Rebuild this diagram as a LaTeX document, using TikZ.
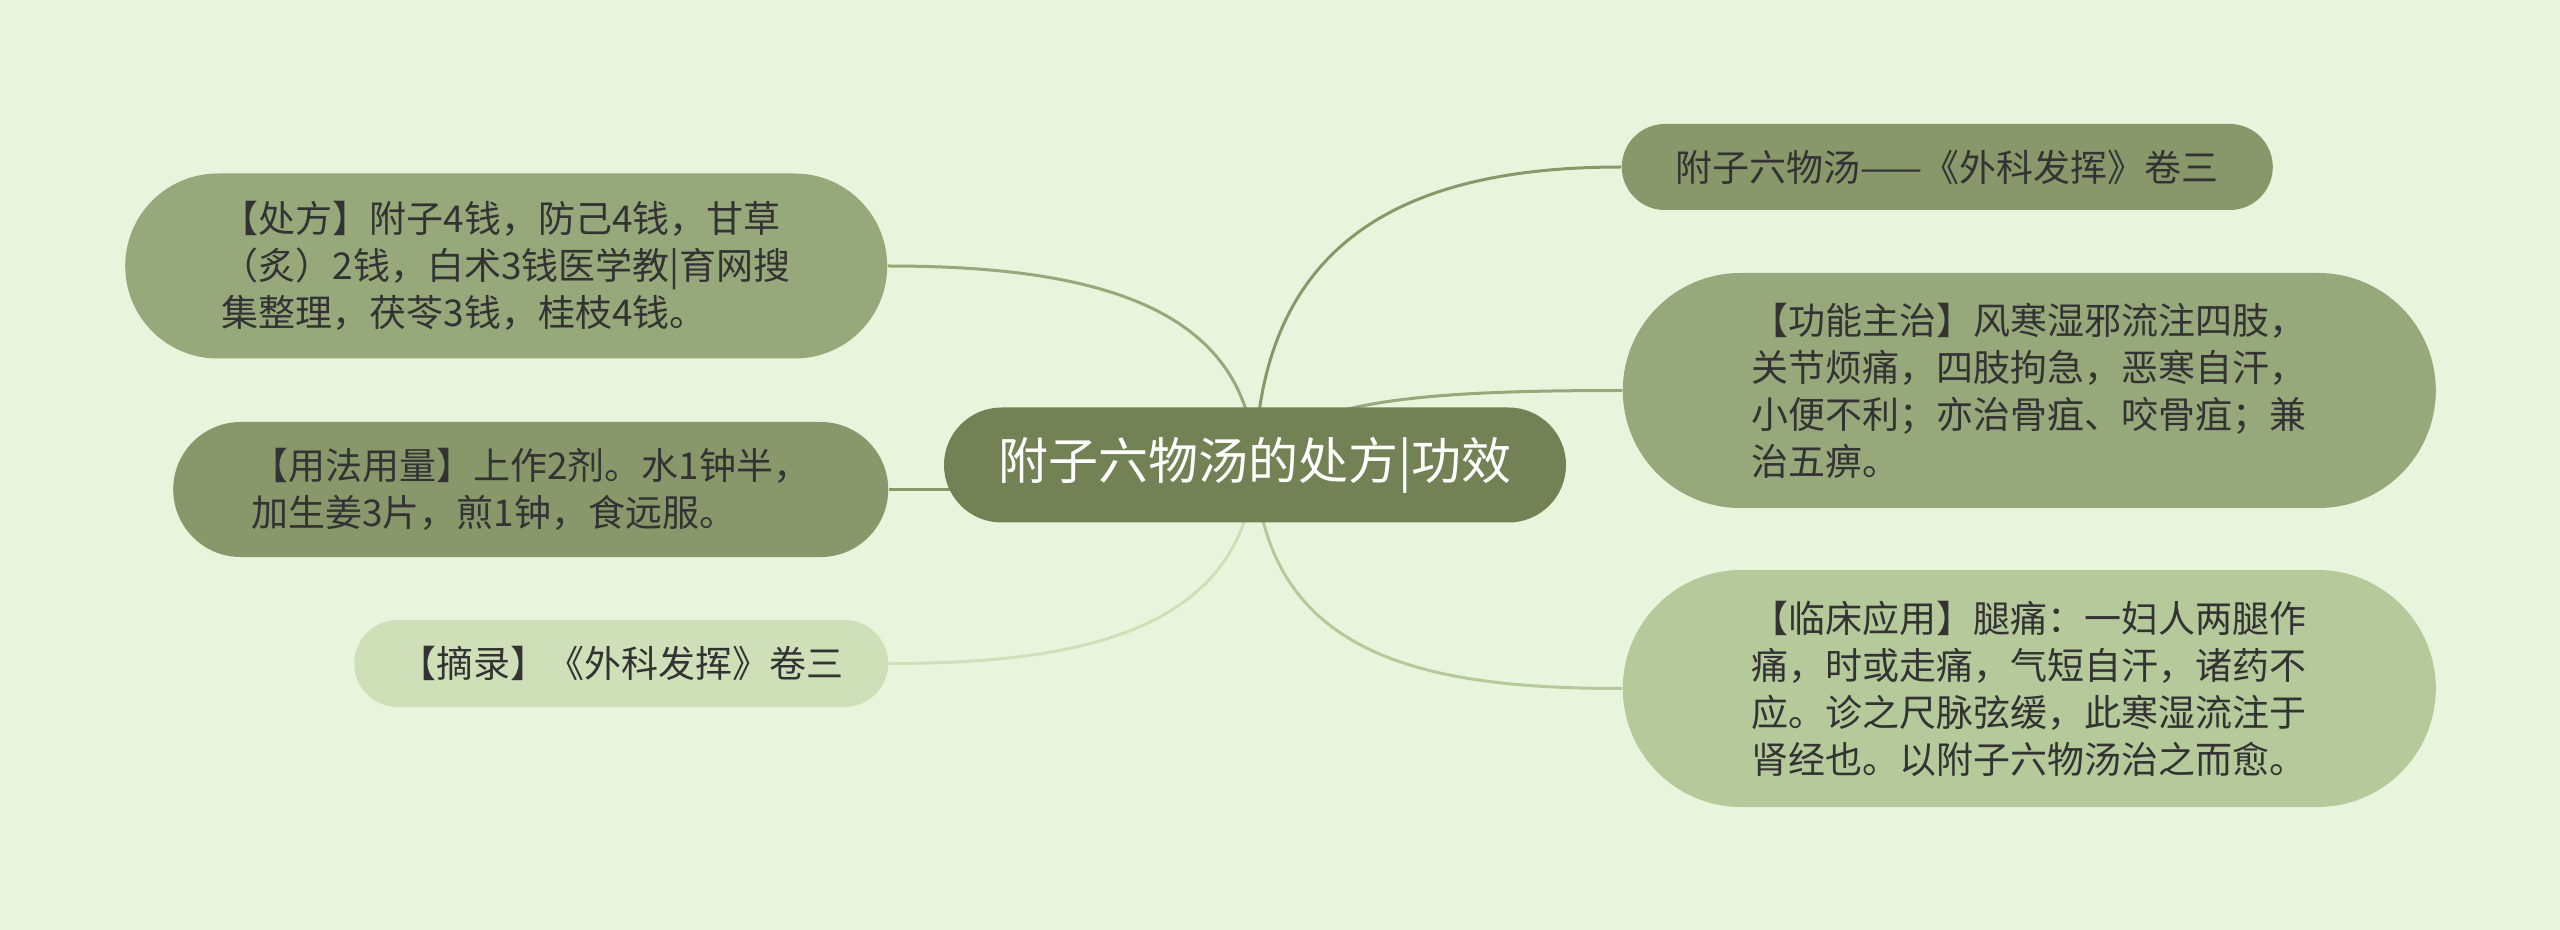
\documentclass[tikz,border=0pt]{standalone}
\usepackage{fontspec}
\setmainfont{Noto Sans CJK SC}
\usepackage{xcolor}
\usepackage{tikz}
\usetikzlibrary{shapes.misc, positioning, backgrounds, calc}
\definecolor{bggreen}{RGB}{232, 245, 220}
\definecolor{rootgreen}{RGB}{114, 130, 84}
\definecolor{midgreen}{RGB}{136, 152, 106}
\definecolor{softgreen}{RGB}{151, 168, 123}
\definecolor{palegreen}{RGB}{181, 201, 154}
\definecolor{lightgreen}{RGB}{207, 224, 185}
\definecolor{textgray}{RGB}{51, 51, 51}

\begin{document}
\begin{tikzpicture}[
    x=0.5pt, y=-0.5pt,
    root/.style={rounded rectangle, fill=rootgreen, text=white, inner xsep=0pt, minimum width=311pt, minimum height=57.5pt, font=\fontsize{25}{30}\selectfont},
    topic/.style={rounded rectangle, inner xsep=0pt, inner ysep=0pt, text=textgray, align=left, font=\fontsize{18.5}{23.5}\selectfont},
    branch/.style={line width=1.5pt}
]
    % Root
    \node[root] (title) at (1255,465) {附子六物汤的处方|功效};

    % Nodes - left side
    \node[topic, fill=softgreen, minimum width=381pt, minimum height=92.5pt, left=28pt of title, yshift=99.5pt] (recipe) {【处方】附子4钱，防己4钱，甘草\\（炙）2钱，白术3钱医学教|育网搜\\集整理，茯苓3钱，桂枝4钱。};
    \node[topic, fill=midgreen, minimum width=357.5pt, minimum height=67.5pt, left=27.5pt of title, yshift=-12.25pt] (usage) {【用法用量】上作2剂。水1钟半，\\加生姜3片，煎1钟，食远服。};
    \node[topic, fill=lightgreen, minimum width=267pt, minimum height=43.5pt, left=27.5pt of title, yshift=-99.25pt] (excerpt) {【摘录】《外科发挥》卷三};

    % Nodes - right side
    \node[topic, fill=midgreen, minimum width=325.5pt, minimum height=43pt, right=27.5pt of title, yshift=149pt] (source) {附子六物汤——《外科发挥》卷三};
    \node[topic, fill=softgreen, minimum width=406.5pt, minimum height=117.5pt, right=28pt of title, yshift=37.25pt] (indication) {【功能主治】风寒湿邪流注四肢，\\关节烦痛，四肢拘急，恶寒自汗，\\小便不利；亦治骨疽、咬骨疽；兼\\治五痹。};
    \node[topic, fill=palegreen, minimum width=406.5pt, minimum height=118.5pt, right=28pt of title, yshift=-111.75pt] (clinic) {【临床应用】腿痛：一妇人两腿作\\痛，时或走痛，气短自汗，诸药不\\应。诊之尺脉弦缓，此寒湿流注于\\肾经也。以附子六物汤治之而愈。};

    % Branches
    \begin{scope}[on background layer]
        \fill[bggreen] (0,0) rectangle (2560,930);
        \draw[branch, softgreen] (title.center) .. controls ($(title.center)+(-5,-165)$) and ($(recipe.east)+(193,0)$) .. (recipe.east);
        \draw[branch, midgreen] (usage.east) -- (usage.east -| title.center);
        \draw[branch, lightgreen] (title.center) .. controls ($(title.center)+(-10,170)$) and ($(excerpt.east)+(183,0)$) .. (excerpt.east);
        \draw[branch, midgreen] (title.center) .. controls ($(title.center)+(5,-235)$) and ($(source.west)+(-202,0)$) .. (source.west);
        \draw[branch, softgreen] (title.center) .. controls ($(title.center)+(35,-65)$) and ($(indication.west)+(-202,0)$) .. (indication.west);
        \draw[branch, palegreen] (title.center) .. controls ($(title.center)+(10,195)$) and ($(clinic.west)+(-192,0)$) .. (clinic.west);
    \end{scope}
\end{tikzpicture}
\end{document}
